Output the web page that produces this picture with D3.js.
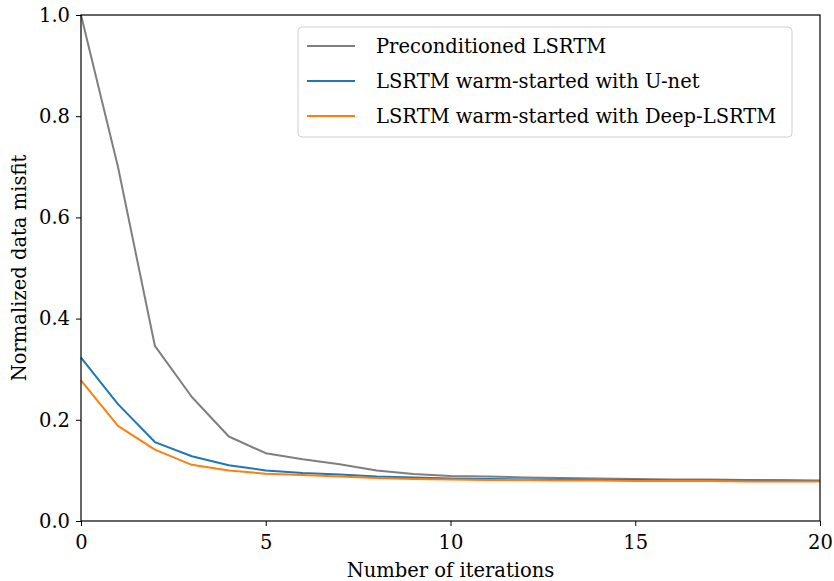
<!DOCTYPE html>
<html><head><meta charset="utf-8">
<script src="https://cdn.jsdelivr.net/npm/d3@7"></script>
<style>body{margin:0;background:#fff}svg text{font-family:"DejaVu Serif",serif;fill:#000}</style>
</head><body><svg id="c" width="834" height="581"></svg>
<script>
const iterations = d3.range(0, 21);
const preconditioned = [1.0,0.70,0.346,0.245,0.167,0.134,0.122,0.112,0.100,0.093,0.089,0.088,0.086,0.085,0.084,0.083,0.082,0.082,0.081,0.081,0.080];
const unet = [0.323,0.231,0.156,0.128,0.110,0.100,0.095,0.092,0.088,0.086,0.084,0.083,0.082,0.082,0.081,0.081,0.080,0.080,0.080,0.079,0.079];
const deep = [0.278,0.188,0.141,0.111,0.100,0.0935,0.091,0.088,0.085,0.083,0.082,0.081,0.081,0.080,0.080,0.079,0.079,0.079,0.078,0.078,0.078];
const seriesNames = ["Preconditioned LSRTM","LSRTM warm-started with U-net","LSRTM warm-started with Deep-LSRTM"];
const colors = ["#7f7f7f","#1f77b4","#ff7f0e"];
const xTicks = [0,5,10,15,20];
const yTicks = [0,0.2,0.4,0.6,0.8,1.0];

const svg = d3.select("#c");
const L=81,R=820,T=15,B=521;
const x = d3.scaleLinear().domain([0,20]).range([L,R]);
const y = d3.scaleLinear().domain([0,1]).range([B,T]);

const line = d3.line().x((d,i)=>x(iterations[i])).y(d=>y(d));
[preconditioned,unet,deep].forEach((s,k)=>{
  svg.append("path").datum(s).attr("d",line).attr("fill","none")
    .attr("stroke",colors[k]).attr("stroke-width",2).attr("stroke-linejoin","round");
});

const xa = svg.append("g").attr("transform",`translate(0,${B})`)
  .call(d3.axisBottom(x).tickValues(xTicks).tickFormat(d3.format("d")).tickSize(5).tickPadding(6));
const ya = svg.append("g").attr("transform",`translate(${L},0)`)
  .call(d3.axisLeft(y).tickValues(yTicks).tickFormat(d3.format(".1f")).tickSize(5).tickPadding(6));
[xa,ya].forEach(a=>{a.attr("font-family",null).attr("font-size",null);a.select(".domain").remove();a.selectAll("line").attr("stroke","#000").attr("stroke-width",1);
  a.selectAll("text").attr("font-size",19.5);});
xa.selectAll("text").attr("dy","0.85em");
svg.append("rect").attr("x",L).attr("y",T).attr("width",R-L).attr("height",B-T)
  .attr("fill","none").attr("stroke","#000").attr("stroke-width",1.2);

svg.append("text").attr("x",(L+R)/2).attr("y",577).attr("text-anchor","middle").attr("font-size",19.5).text("Number of iterations");
svg.append("text").attr("transform",`translate(26,${(T+B)/2}) rotate(-90)`).attr("text-anchor","middle").attr("font-size",19.5).text("Normalized data misfit");

const lg = svg.append("g");
lg.append("rect").attr("x",298).attr("y",27).attr("width",494).attr("height",110).attr("rx",4)
  .attr("fill","#fff").attr("fill-opacity",0.8).attr("stroke","#d0d0d0").attr("stroke-width",1);
seriesNames.forEach((n,k)=>{
  const yy = 46 + k*35;
  lg.append("line").attr("x1",307).attr("x2",355).attr("y1",yy).attr("y2",yy).attr("stroke",colors[k]).attr("stroke-width",2);
  lg.append("text").attr("x",376).attr("y",yy).attr("dy","0.35em").attr("font-size",19.5).text(n);
});
</script></body></html>
